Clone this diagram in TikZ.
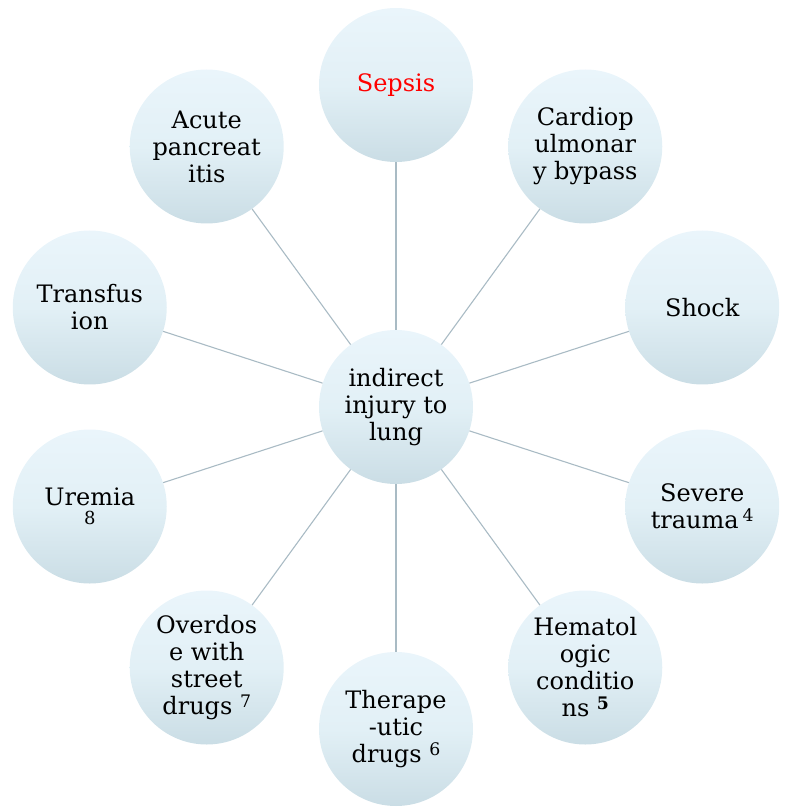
\documentclass[tikz,border=0pt]{standalone}
\usepackage{fontspec}
\setmainfont{DejaVu Serif}
\usepackage{xcolor}
\usepackage{graphicx}
\usepackage{tikz}
\definecolor{bubtop}{HTML}{EAF5FB}
\definecolor{bubmid}{HTML}{E2F0F6}
\definecolor{bubbot}{HTML}{CADDE5}
\definecolor{spoke}{HTML}{A9BBC4}
\newcommand{\supn}[1]{\raisebox{0.3em}{\scalebox{0.72}{#1}}}

\begin{document}
\begin{tikzpicture}[x=1pt,y=1pt,
  bub/.style={circle,minimum size=154pt,inner sep=0pt,top color=bubtop,
    bottom color=bubbot,middle color=bubmid,draw=none,align=center,
    font=\fontsize{24}{27}\selectfont},
  link/.style={spoke,line width=1.1pt}]
  \useasboundingbox (-396,407) rectangle (392,-400);
  % Hub
  \node[bub] (hub) at (0,0) {indirect\\injury to\\lung};
  % Ring of causes, radius 322
  \node[bub,text=red] (sepsis)  at (90:322)   {Sepsis};
  \node[bub] (bypass)  at (54:322)   {Cardiop\\ulmonar\\y bypass};
  \node[bub] (shock)   at (18:322)   {Shock};
  \node[bub] (trauma)  at (-18:322)  {Severe\\trauma\,\supn{4}};
  \node[bub] (hemat)   at (-54:322)  {Hematol\\ogic\\conditio\\ns \supn{\textbf{5}}};
  \node[bub] (thera)   at (-90:322)  {Therape\\-utic\\drugs \supn{6}};
  \node[bub] (overdose) at (-126:322) {Overdos\\e with\\street\\drugs \supn{7}};
  \node[bub] (uremia)  at (-162:322) {Uremia\\[-8pt]\scalebox{0.75}{8}};
  \node[bub] (transf)  at (162:322)  {Transfus\\ion};
  \node[bub] (pancr)   at (126:322)  {Acute\\pancreat\\itis};
  % Spokes
  \draw[link] (hub) -- (sepsis);
  \draw[link] (hub) -- (bypass);
  \draw[link] (hub) -- (shock);
  \draw[link] (hub) -- (trauma);
  \draw[link] (hub) -- (hemat);
  \draw[link] (hub) -- (thera);
  \draw[link] (hub) -- (overdose);
  \draw[link] (hub) -- (uremia);
  \draw[link] (hub) -- (transf);
  \draw[link] (hub) -- (pancr);
\end{tikzpicture}
\end{document}
